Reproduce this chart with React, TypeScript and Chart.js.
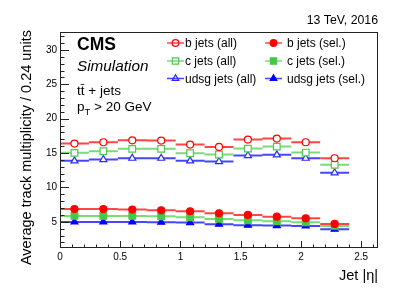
import React, { useEffect, useRef } from "react";
import { Chart, registerables } from "chart.js";

Chart.register(...registerables);

// ---- data ----
const binEdges = [0, 0.24, 0.48, 0.72, 0.96, 1.2, 1.44, 1.68, 1.92, 2.16, 2.4];
const binCenters = [0.12, 0.36, 0.6, 0.84, 1.08, 1.32, 1.56, 1.8, 2.04, 2.28];

const bAll = [16.38, 16.57, 16.86, 16.81, 16.23, 15.89, 16.96, 17.1, 16.57, 14.25];
const cAll = [15.03, 15.27, 15.61, 15.61, 14.98, 14.79, 15.65, 15.94, 15.07, 13.29];
const udsgAll = [13.87, 14.06, 14.25, 14.25, 13.87, 13.77, 14.64, 14.74, 14.25, 12.13];
const bSel = [6.87, 6.87, 6.78, 6.68, 6.54, 6.25, 6.01, 5.76, 5.52, 4.7];
const cSel = [5.86, 5.86, 5.86, 5.81, 5.67, 5.43, 5.23, 5.09, 4.94, 4.41];
const udsgSel = [4.99, 4.99, 4.99, 4.94, 4.9, 4.66, 4.51, 4.46, 4.41, 3.93];

const xTicks = [0, 0.5, 1, 1.5, 2, 2.5];
const xTickLabels = ["0", "0.5", "1", "1.5", "2", "2.5"];
const yTicks = [5, 10, 15, 20, 25, 30];
const yTickLabels = ["5", "10", "15", "20", "25", "30"];
const xMinorStep = 0.1;
const yMinorStep = 1;

const seriesLabels = [
  "b jets (all)",
  "b jets (sel.)",
  "c jets (all)",
  "c jets (sel.)",
  "udsg jets (all)",
  "udsg jets (sel.)",
];
const seriesValues = [bAll, bSel, cAll, cSel, udsgAll, udsgSel];

// ---- styles ----
const seriesStyles = [
  { line: "rgb(255,70,70)", marker: "rgb(255,0,0)", fill: "#ffffff", shape: "circle", radius: 3.5 },
  { line: "rgb(255,70,70)", marker: "rgb(255,0,0)", fill: "rgb(255,0,0)", shape: "circle", radius: 3.5 },
  { line: "rgb(120,220,120)", marker: "rgb(80,200,80)", fill: "#ffffff", shape: "rect", radius: 4.7 },
  { line: "rgb(120,220,120)", marker: "rgb(70,200,70)", fill: "rgb(70,200,70)", shape: "rect", radius: 4.7 },
  { line: "rgb(70,70,255)", marker: "rgb(40,40,255)", fill: "#ffffff", shape: "triangle", radius: 4 },
  { line: "rgb(70,70,255)", marker: "rgb(0,0,255)", fill: "rgb(0,0,255)", shape: "triangle", radius: 4 },
];

const FONT = "'Liberation Sans', Arial, Helvetica, sans-serif";
const X_MIN = 0;
const X_MAX = 2.64;
const Y_MIN = 1.2;
const Y_MAX = 32.6;

function stepData(vals: number[]) {
  const out: { x: number; y: number | null }[] = [];
  vals.forEach((v, i) => {
    out.push({ x: binEdges[i], y: v });
    out.push({ x: binEdges[i + 1], y: v });
    out.push({ x: binEdges[i + 1], y: null });
  });
  return out;
}

function drawMarker(ctx: CanvasRenderingContext2D, shape: string, x: number, y: number, r: number, stroke: string, fill: string) {
  ctx.save();
  ctx.beginPath();
  if (shape === "circle") {
    ctx.arc(x, y, r, 0, Math.PI * 2);
  } else if (shape === "rect") {
    const s = Math.SQRT1_2 * r;
    ctx.rect(x - s, y - s, 2 * s, 2 * s);
  } else {
    const h = r;
    ctx.moveTo(x, y - h);
    ctx.lineTo(x + h * 0.866, y + h * 0.5);
    ctx.lineTo(x - h * 0.866, y + h * 0.5);
    ctx.closePath();
  }
  ctx.fillStyle = fill;
  ctx.fill();
  ctx.strokeStyle = stroke;
  ctx.lineWidth = 1.2;
  ctx.stroke();
  ctx.restore();
}

const overlayPlugin = {
  id: "overlay",
  afterDraw(chart: any) {
    const ctx: CanvasRenderingContext2D = chart.ctx;
    const { left, right, top, bottom } = chart.chartArea;
    const xs = chart.scales.x;
    const ys = chart.scales.y;
    ctx.save();
    // frame
    ctx.strokeStyle = "#222";
    ctx.lineWidth = 1;
    ctx.strokeRect(Math.round(left) + 0.5, Math.round(top) + 0.5, Math.round(right - left) - 1, Math.round(bottom - top) - 1);
    // ticks
    ctx.beginPath();
    for (let v = X_MIN; v <= X_MAX + 1e-9; v += xMinorStep) {
      const vv = Math.round(v * 100) / 100;
      const px = Math.round(xs.getPixelForValue(vv)) + 0.5;
      const major = xTicks.some((t) => Math.abs(t - vv) < 1e-6);
      const len = major ? 7 : 3.5;
      ctx.moveTo(px, bottom);
      ctx.lineTo(px, bottom - len);
    }
    for (let v = 2; v <= Y_MAX; v += yMinorStep) {
      const py = Math.round(ys.getPixelForValue(v)) + 0.5;
      const major = yTicks.includes(v);
      const len = major ? 9 : 4.5;
      ctx.moveTo(left, py);
      ctx.lineTo(left + len, py);
    }
    ctx.stroke();

    // texts
    ctx.fillStyle = "#000";
    ctx.textBaseline = "alphabetic";
    ctx.textAlign = "right";
    ctx.font = `12.3px ${FONT}`;
    ctx.fillText("13 TeV, 2016", 378, 24);

    ctx.font = `14.5px ${FONT}`;
    ctx.fillText("Jet |η|", 378, 280);

    ctx.save();
    ctx.translate(31, 30);
    ctx.rotate(-Math.PI / 2);
    ctx.textAlign = "right";
    ctx.fillText("Average track multiplicity / 0.24 units", 0, 0);
    ctx.restore();

    ctx.textAlign = "left";
    ctx.font = `bold 17.5px ${FONT}`;
    ctx.fillText("CMS", 77, 50);
    ctx.font = `italic 15.3px ${FONT}`;
    ctx.fillText("Simulation", 77, 71);
    ctx.font = `13.5px ${FONT}`;
    ctx.fillText("tt\u0304 + jets", 77, 95);
    // p_T > 20 GeV
    ctx.fillText("p", 77, 111);
    const pw = ctx.measureText("p").width;
    ctx.font = `9.5px ${FONT}`;
    ctx.fillText("T", 77 + pw, 114.5);
    const tw = ctx.measureText("T").width;
    ctx.font = `13.5px ${FONT}`;
    ctx.fillText(" > 20 GeV", 77 + pw + tw, 111);

    // legend
    const colSym = [167, 265];
    const colText = [185, 287];
    const rowBase = [47, 65, 82.5];
    ctx.font = `12px ${FONT}`;
    seriesLabels.forEach((lab, i) => {
      const col = i % 2;
      const row = Math.floor(i / 2);
      const st = seriesStyles[i];
      const cy = rowBase[row] - 4;
      ctx.strokeStyle = st.line;
      ctx.lineWidth = 1.5;
      ctx.beginPath();
      ctx.moveTo(colSym[col], cy);
      ctx.lineTo(colSym[col] + 17, cy);
      ctx.stroke();
      drawMarker(ctx, st.shape, colSym[col] + 8.5, cy, st.radius * 0.95, st.marker, st.fill === "#ffffff" ? "rgba(0,0,0,0)" : st.fill);
      ctx.fillStyle = "#000";
      ctx.fillText(lab, colText[col], rowBase[row]);
    });
    ctx.restore();
  },
};

export default function App() {
  const ref = useRef<HTMLCanvasElement | null>(null);

  useEffect(() => {
    document.body.style.margin = "0";
    const canvas = ref.current;
    if (!canvas) return;

    const lineSets = seriesValues.map((vals, i) => ({
      label: seriesLabels[i] + " line",
      data: stepData(vals),
      showLine: true,
      spanGaps: false,
      borderColor: seriesStyles[i].line,
      borderWidth: 2,
      pointRadius: 0,
      pointHoverRadius: 0,
      order: 2,
    }));
    const markerSets = seriesValues.map((vals, i) => ({
      label: seriesLabels[i],
      data: vals.map((v, k) => ({ x: binCenters[k], y: v })),
      showLine: false,
      pointStyle: seriesStyles[i].shape,
      pointRadius: seriesStyles[i].radius,
      pointBorderWidth: 1.2,
      pointBorderColor: seriesStyles[i].marker,
      pointBackgroundColor: seriesStyles[i].fill,
      borderColor: seriesStyles[i].marker,
      backgroundColor: seriesStyles[i].fill,
      order: 1,
    }));

    const chart = new Chart(canvas, {
      type: "scatter",
      data: { datasets: [...lineSets, ...markerSets] as any },
      options: {
        responsive: false,
        animation: false,
        layout: { padding: { left: 0, top: 32, right: 29, bottom: 0 } },
        plugins: {
          legend: { display: false },
          tooltip: { enabled: false },
          title: { display: false },
        },
        scales: {
          x: {
            type: "linear",
            min: X_MIN,
            max: X_MAX,
            grid: { display: false, drawTicks: false },
            border: { display: false },
            afterFit: (s: any) => {
              s.height = 45;
            },
            afterBuildTicks: (s: any) => {
              s.ticks = xTicks.map((v) => ({ value: v }));
            },
            ticks: {
              autoSkip: false,
              maxRotation: 0,
              padding: 3,
              color: "#000",
              font: { family: FONT, size: 10 },
              callback: (v: any) => xTickLabels[xTicks.indexOf(Number(v))] ?? "",
            },
          },
          y: {
            type: "linear",
            min: Y_MIN,
            max: Y_MAX,
            grid: { display: false, drawTicks: false },
            border: { display: false },
            afterFit: (s: any) => {
              s.width = 60;
            },
            afterBuildTicks: (s: any) => {
              s.ticks = yTicks.map((v) => ({ value: v }));
            },
            ticks: {
              autoSkip: false,
              padding: 3,
              color: "#000",
              font: { family: FONT, size: 10 },
              callback: (v: any) => yTickLabels[yTicks.indexOf(Number(v))] ?? "",
            },
          },
        },
      },
      plugins: [overlayPlugin],
    });
    return () => chart.destroy();
  }, []);

  return <canvas ref={ref} width={407} height={293} style={{ display: "block" }} />;
}
